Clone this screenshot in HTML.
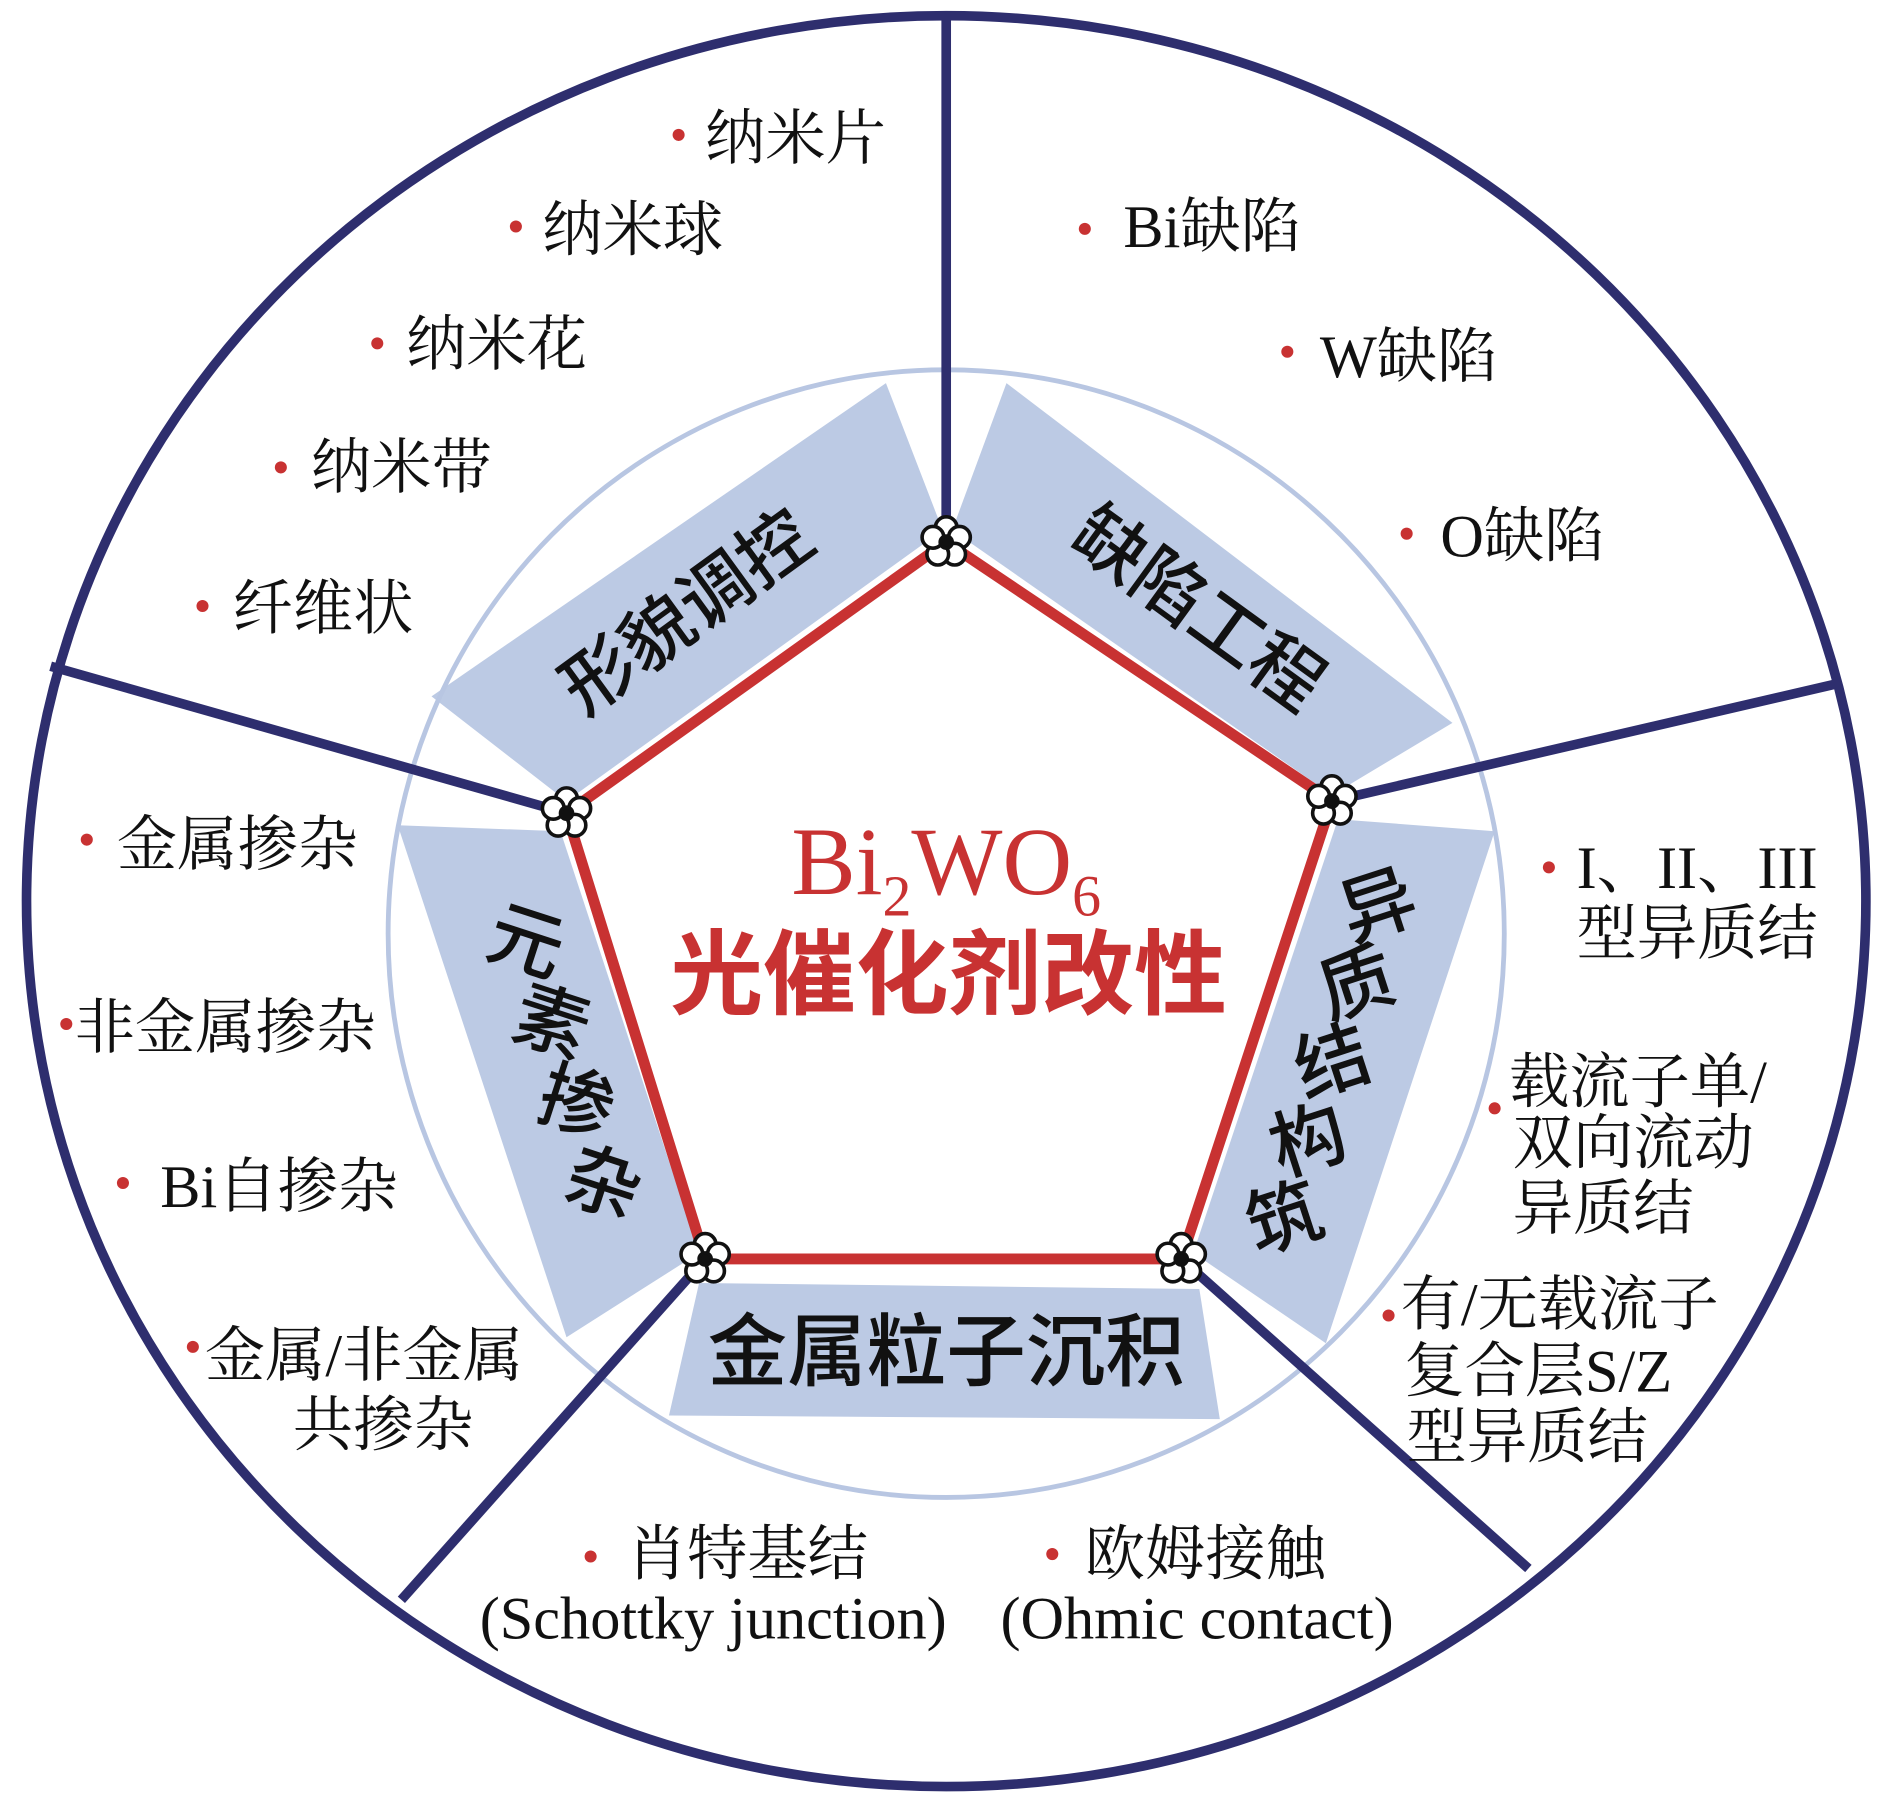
<!DOCTYPE html>
<html><head><meta charset="utf-8"><style>
html,body{margin:0;padding:0;background:#fff;}
svg{display:block;}
.s{font-family:"Liberation Serif","Noto Serif CJK SC",serif;fill:#111;}
.h{font-family:"Liberation Sans","Noto Sans CJK SC",sans-serif;fill:#111;font-weight:500;}
</style></head><body>
<svg width="1890" height="1795" viewBox="0 0 1568 1490" preserveAspectRatio="none" xmlns="http://www.w3.org/2000/svg">
<rect width="1568" height="1490" fill="#fff"/>
<g fill="#bccae4">
<polygon points="358,578 735,318 782,440 470,665"/>
<polygon points="835,318 1205,600 1105,660 790,440"/>
<polygon points="1240,690 1100,1115 990,1040 1110,680"/>
<polygon points="555,1175 1012,1178 995,1070 580,1065"/>
<polygon points="330,685 470,1110 580,1040 465,690"/>
</g>
<ellipse cx="785" cy="775" rx="463" ry="468" fill="none" stroke="#b8c6e2" stroke-width="4"/>
<ellipse cx="785" cy="748" rx="763" ry="735" fill="none" stroke="#2e2e6e" stroke-width="8"/>
<g stroke="#2e2e6e" stroke-width="8">
<line x1="785" y1="14" x2="785" y2="445"/>
<line x1="1522" y1="568" x2="1105" y2="665"/>
<line x1="1268" y1="1302" x2="980" y2="1045"/>
<line x1="333" y1="1328" x2="585" y2="1045"/>
<line x1="42" y1="553" x2="470" y2="675"/>
</g>
<polygon points="785,450 1105,665 980,1045 585,1045 470,675" fill="none" stroke="#c83232" stroke-width="9"/>
<g fill="#fff" stroke="#111" stroke-width="3">
<g transform="translate(785,450)"><circle cx="0" cy="-12" r="9"/><circle cx="11" cy="-4" r="9"/><circle cx="7" cy="10" r="9"/><circle cx="-7" cy="10" r="9"/><circle cx="-11" cy="-4" r="9"/><circle r="5" fill="#111"/></g>
<g transform="translate(1105,665)"><circle cx="0" cy="-12" r="9"/><circle cx="11" cy="-4" r="9"/><circle cx="7" cy="10" r="9"/><circle cx="-7" cy="10" r="9"/><circle cx="-11" cy="-4" r="9"/><circle r="5" fill="#111"/></g>
<g transform="translate(980,1045)"><circle cx="0" cy="-12" r="9"/><circle cx="11" cy="-4" r="9"/><circle cx="7" cy="10" r="9"/><circle cx="-7" cy="10" r="9"/><circle cx="-11" cy="-4" r="9"/><circle r="5" fill="#111"/></g>
<g transform="translate(585,1045)"><circle cx="0" cy="-12" r="9"/><circle cx="11" cy="-4" r="9"/><circle cx="7" cy="10" r="9"/><circle cx="-7" cy="10" r="9"/><circle cx="-11" cy="-4" r="9"/><circle r="5" fill="#111"/></g>
<g transform="translate(470,675)"><circle cx="0" cy="-12" r="9"/><circle cx="11" cy="-4" r="9"/><circle cx="7" cy="10" r="9"/><circle cx="-7" cy="10" r="9"/><circle cx="-11" cy="-4" r="9"/><circle r="5" fill="#111"/></g>
</g>
<text x="785" y="742" text-anchor="middle" font-family="Liberation Serif,serif" font-size="80" fill="#c83232">Bi<tspan font-size="48" dy="18">2</tspan><tspan dy="-18">WO</tspan><tspan font-size="48" dy="18">6</tspan></text>
<text x="787" y="836" text-anchor="middle" font-family="Liberation Sans,Noto Sans CJK SC,sans-serif" font-size="77" font-weight="bold" fill="#c83232">光催化剂改性</text>
<text class="h" font-size="60" text-anchor="middle" transform="translate(582,525) rotate(-36)">形貌调控</text>
<text class="h" font-size="60" text-anchor="middle" transform="translate(982,522) rotate(36)">缺陷工程</text>
<text class="h" font-size="66" text-anchor="middle" x="785" y="1145">金属粒子沉积</text>
<g class="h" font-size="62" text-anchor="middle">
<text transform="translate(1150,772) rotate(-18)">异</text>
<text transform="translate(1132,837) rotate(-18)">质</text>
<text transform="translate(1112,902) rotate(-18)">结</text>
<text transform="translate(1092,967) rotate(-18)">构</text>
<text transform="translate(1072,1032) rotate(-18)">筑</text>
<text transform="translate(430,802) rotate(18)">元</text>
<text transform="translate(451,869) rotate(18)">素</text>
<text transform="translate(472,936) rotate(18)">掺</text>
<text transform="translate(494,1003) rotate(18)">杂</text>
</g>
<g fill="#c83232">
<circle cx="563" cy="112" r="5"/><circle cx="428" cy="188" r="5"/><circle cx="313" cy="285" r="5"/><circle cx="233" cy="388" r="5"/><circle cx="168" cy="503" r="5"/>
<circle cx="900" cy="190" r="5"/><circle cx="1068" cy="292" r="5"/><circle cx="1167" cy="443" r="5"/>
<circle cx="1285" cy="720" r="5"/><circle cx="1240" cy="920" r="5"/><circle cx="1152" cy="1092" r="5"/>
<circle cx="873" cy="1290" r="5"/><circle cx="490" cy="1292" r="5"/>
<circle cx="72" cy="697" r="5"/><circle cx="55" cy="850" r="5"/><circle cx="102" cy="982" r="5"/><circle cx="160" cy="1118" r="5"/>
</g>
<g class="s" font-size="50">
<text x="585" y="132">纳米片</text>
<text x="450" y="208">纳米球</text>
<text x="337" y="303">纳米花</text>
<text x="258" y="405">纳米带</text>
<text x="193" y="522">纤维状</text>
<text x="932" y="205">Bi缺陷</text>
<text x="1095" y="313">W缺陷</text>
<text x="1195" y="462">O缺陷</text>
<text x="1308" y="737">I、II、III</text>
<text x="1308" y="792">型异质结</text>
<text x="1252" y="915">载流子单/</text>
<text x="1255" y="966">双向流动</text>
<text x="1255" y="1020">异质结</text>
<text x="1162" y="1100">有/无载流子</text>
<text x="1165" y="1155">复合层S/Z</text>
<text x="1167" y="1210">型异质结</text>
<text x="520" y="1307">肖特基结</text>
<text x="398" y="1360" letter-spacing="0">(Schottky junction)</text>
<text x="900" y="1307">欧姆接触</text>
<text x="830" y="1360" letter-spacing="0">(Ohmic contact)</text>
<text x="97" y="718">金属掺杂</text>
<text x="62" y="870">非金属掺杂</text>
<text x="133" y="1002">Bi自掺杂</text>
<text x="170" y="1142">金属/非金属</text>
<text x="243" y="1200">共掺杂</text>
</g>
</svg>
</body></html>
